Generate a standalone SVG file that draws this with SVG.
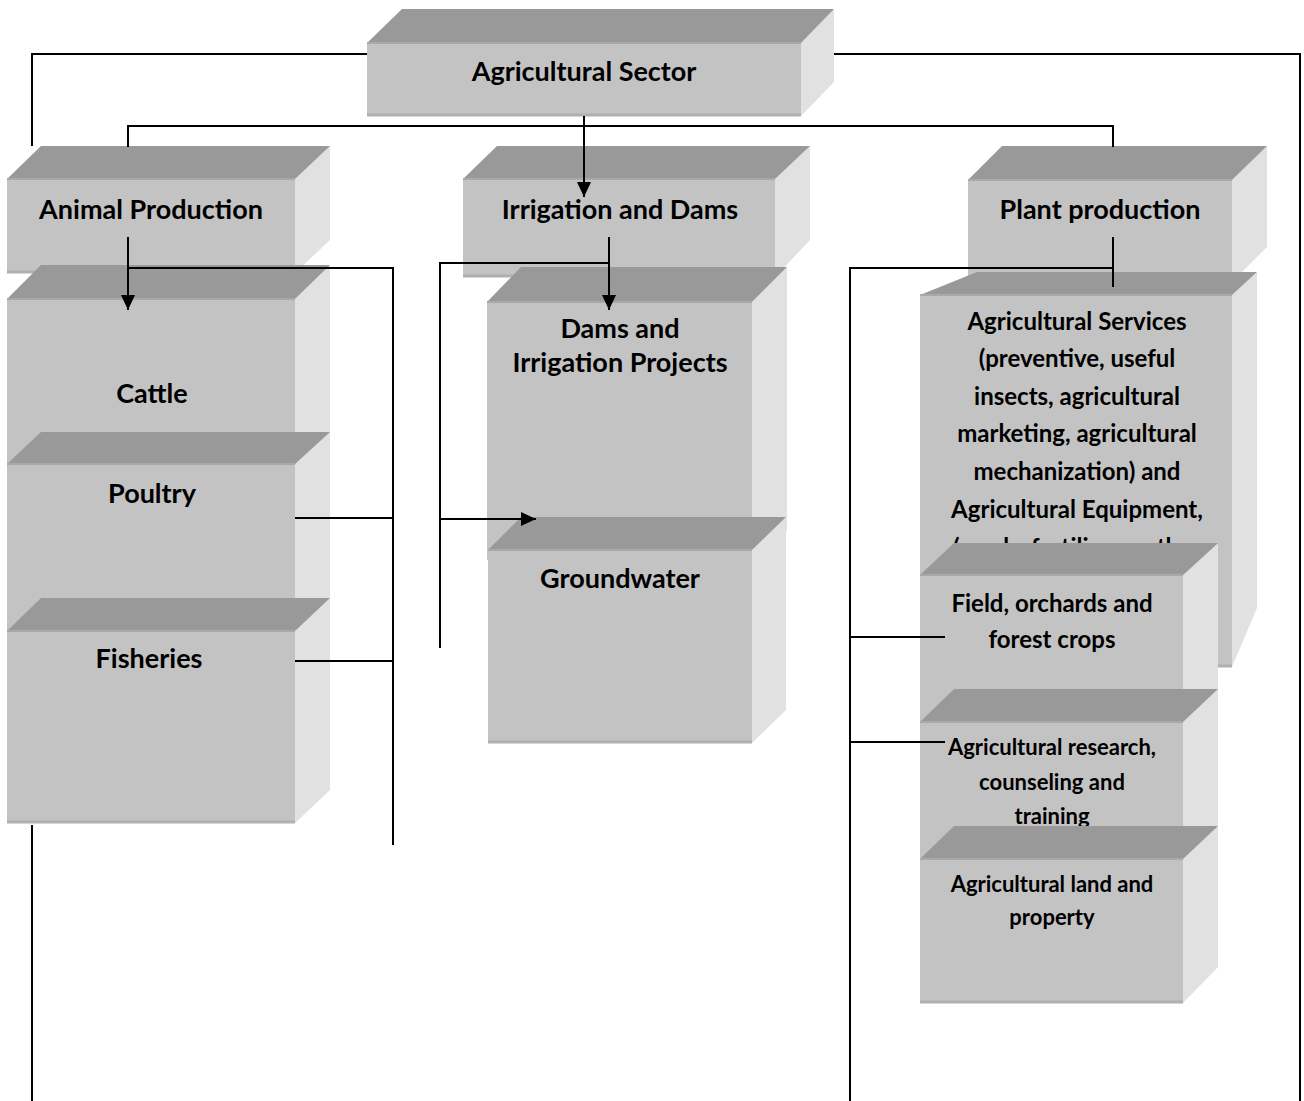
<svg xmlns="http://www.w3.org/2000/svg" width="1304" height="1101" viewBox="0 0 1304 1101">
<style>
.front{fill:#c3c3c3;stroke:none}
.top{fill:#999999}
.side{fill:#e1e1e1}
.edge{stroke:#b0b0b0;stroke-width:3;fill:none}
.tedge{stroke:#a9a9a9;stroke-width:2;fill:none}
text{font-family:Lato,"Open Sans","Liberation Sans",sans-serif;font-weight:bold;fill:#000;text-anchor:middle}
.l{font-size:27px}
.m{font-size:24px}
.s{font-size:22px}
.c{stroke:#000;stroke-width:2;fill:none}
</style>
<defs>
<marker id="ah" markerUnits="userSpaceOnUse" markerWidth="16" markerHeight="16" viewBox="0 0 16 16" refX="15" refY="8" orient="auto">
<path d="M0,1 L15,8 L0,15 Z" fill="#000"/>
</marker>
</defs>
<rect width="1304" height="1101" fill="#fff"/>

<g id="node-agricultural-sector">
<polygon class="side" points="801,43 834,9 834,82 801,116"/>
<polygon class="top" points="367,43 402,9 834,9 801,43"/>
<rect class="front" x="367" y="43" width="434" height="73"/>
<line class="edge" x1="367" y1="115" x2="801" y2="115"/>
<line class="tedge" x1="367" y1="43" x2="801" y2="43"/>
<text class="l" x="584" y="81">Agricultural Sector</text>
</g>

<g id="node-animal-production">
<polygon class="side" points="295,179 330,146 330,240 295,273"/>
<polygon class="top" points="7,179 41,146 330,146 295,179"/>
<rect class="front" x="7" y="179" width="288" height="94"/>
<line class="edge" x1="7" y1="272" x2="295" y2="272"/>
<line class="tedge" x1="7" y1="179" x2="295" y2="179"/>
<text class="l" x="151" y="219">Animal Production</text>
</g>

<g id="node-cattle">
<polygon class="side" points="295,299 330,265 330,440 295,470"/>
<polygon class="top" points="7,299 41,265 330,265 295,299"/>
<rect class="front" x="7" y="299" width="288" height="171"/>
<line class="tedge" x1="7" y1="299" x2="295" y2="299"/>
<text class="l" x="152" y="403">Cattle</text>
</g>

<g id="node-poultry">
<polygon class="side" points="295,464 330,432 330,620 295,650"/>
<polygon class="top" points="7,464 41,432 330,432 295,464"/>
<rect class="front" x="7" y="464" width="288" height="186"/>
<line class="tedge" x1="7" y1="464" x2="295" y2="464"/>
<text class="l" x="152" y="503">Poultry</text>
</g>

<g id="node-fisheries">
<polygon class="side" points="295,631 330,598 330,790 295,823"/>
<polygon class="top" points="7,631 41,598 330,598 295,631"/>
<rect class="front" x="7" y="631" width="288" height="192"/>
<line class="edge" x1="7" y1="822" x2="295" y2="822"/>
<line class="tedge" x1="7" y1="631" x2="295" y2="631"/>
<text class="l" x="149" y="668">Fisheries</text>
</g>

<g id="node-irrigation-and-dams">
<polygon class="side" points="775,179 810,146 810,240 775,277"/>
<polygon class="top" points="463,179 497,146 810,146 775,179"/>
<rect class="front" x="463" y="179" width="312" height="98"/>
<line class="edge" x1="463" y1="276" x2="775" y2="276"/>
<line class="tedge" x1="463" y1="179" x2="775" y2="179"/>
<text class="l" x="620" y="219">Irrigation and Dams</text>
</g>

<g id="node-dams-projects">
<polygon class="side" points="752,302 787,267 787,530 752,560"/>
<polygon class="top" points="487,302 521,267 787,267 752,302"/>
<rect class="front" x="487" y="302" width="265" height="258"/>
<line class="tedge" x1="487" y1="302" x2="752" y2="302"/>
<text class="l" x="620" y="338">Dams and</text>
<text class="l" x="620" y="372">Irrigation Projects</text>
</g>

<g id="node-groundwater">
<polygon class="side" points="752,550 786,517 786,710 752,743"/>
<polygon class="top" points="488,550 521,517 786,517 752,550"/>
<rect class="front" x="488" y="550" width="264" height="193"/>
<line class="edge" x1="488" y1="742" x2="752" y2="742"/>
<line class="tedge" x1="488" y1="550" x2="752" y2="550"/>
<text class="l" x="620" y="588">Groundwater</text>
</g>

<g id="node-plant-production">
<polygon class="side" points="1232,180 1267,146 1267,247 1232,282"/>
<polygon class="top" points="968,180 1002,146 1267,146 1232,180"/>
<rect class="front" x="968" y="180" width="264" height="105"/>
<line class="tedge" x1="968" y1="180" x2="1232" y2="180"/>
<text class="l" x="1100" y="219">Plant production</text>
</g>

<g id="node-agricultural-services">
<polygon class="side" points="1232,295 1257,272 1257,608 1232,667"/>
<polygon class="top" points="920,295 977,272 1257,272 1232,295"/>
<rect class="front" x="920" y="295" width="312" height="372"/>
<line class="edge" x1="920" y1="666" x2="1232" y2="666"/>
<line class="tedge" x1="920" y1="295" x2="1232" y2="295"/>
<text class="m" x="1077" y="330">Agricultural Services</text>
<text class="m" x="1077" y="367">(preventive, useful</text>
<text class="m" x="1077" y="405">insects, agricultural</text>
<text class="m" x="1077" y="442">marketing, agricultural</text>
<text class="m" x="1077" y="480">mechanization) and</text>
<text class="m" x="1077" y="518">Agricultural Equipment,</text>
<text class="m" x="1077" y="556">(seeds, fertilizers, other</text>
</g>

<g id="node-field-crops">
<polygon class="side" points="1183,575 1218,543 1218,740 1183,770"/>
<polygon class="top" points="920,575 954,543 1218,543 1183,575"/>
<rect class="front" x="920" y="575" width="263" height="195"/>
<line class="tedge" x1="920" y1="575" x2="1183" y2="575"/>
<text class="m" x="1052" y="612">Field, orchards and</text>
<text class="m" x="1052" y="648">forest crops</text>
</g>

<g id="node-research">
<polygon class="side" points="1183,722 1218,689 1218,880 1183,900"/>
<polygon class="top" points="920,722 954,689 1218,689 1183,722"/>
<rect class="front" x="920" y="722" width="263" height="178"/>
<line class="tedge" x1="920" y1="722" x2="1183" y2="722"/>
<text class="s" x="1052" y="755">Agricultural research,</text>
<text class="s" x="1052" y="790">counseling and</text>
<text class="s" x="1052" y="824">training</text>
</g>

<g id="node-land">
<polygon class="side" points="1183,859 1218,826 1218,967 1183,1003"/>
<polygon class="top" points="920,859 954,826 1218,826 1183,859"/>
<rect class="front" x="920" y="859" width="263" height="144"/>
<line class="edge" x1="920" y1="1002" x2="1183" y2="1002"/>
<line class="tedge" x1="920" y1="859" x2="1183" y2="859"/>
<text class="s" x="1052" y="892">Agricultural land and</text>
<text class="s" x="1052" y="925">property</text>
</g>

<g id="connectors">
<path class="c" d="M367,54 H32 V146"/>
<path class="c" d="M32,825 V1101"/>
<path class="c" d="M834,54 H1300 V1101"/>
<path class="c" d="M128,147 V126 H1113 V147"/>
<path class="c" d="M584,116 V197" marker-end="url(#ah)"/>
<path class="c" d="M128,237 V310" marker-end="url(#ah)"/>
<path class="c" d="M128,268 H393 V845"/>
<path class="c" d="M295,518 H393"/>
<path class="c" d="M295,661 H393"/>
<path class="c" d="M609,237 V310" marker-end="url(#ah)"/>
<path class="c" d="M609,263 H440 V648"/>
<path class="c" d="M440,519 H536" marker-end="url(#ah)"/>
<path class="c" d="M1113,237 V287"/>
<path class="c" d="M1113,268 H850 V1101"/>
<path class="c" d="M850,637 H945"/>
<path class="c" d="M850,742 H945"/>
</g>
</svg>
